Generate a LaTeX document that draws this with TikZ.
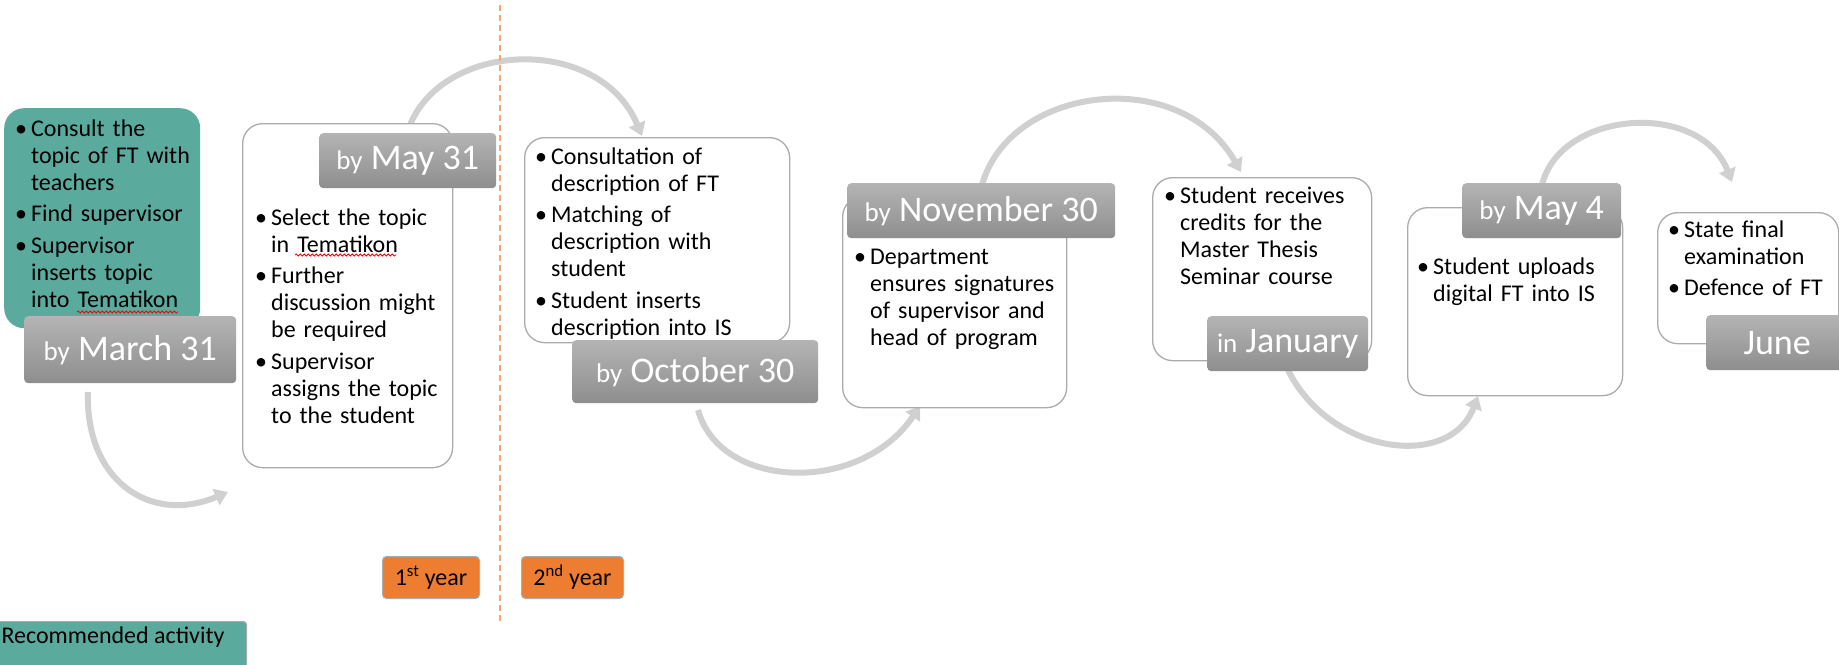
\documentclass[tikz,border=0pt]{standalone}
\usepackage{fontspec}
\setmainfont{Carlito}
\usetikzlibrary{arrows.meta,decorations.pathmorphing}
\definecolor{tealbox}{HTML}{5BAA9E}
\definecolor{labtop}{HTML}{B4B4B4}
\definecolor{labbot}{HTML}{8E8E8E}
\definecolor{boxline}{HTML}{ABABAB}
\definecolor{arrowgray}{HTML}{D0D0D0}
\definecolor{yearor}{HTML}{ED7D31}
\definecolor{dashor}{HTML}{F4A66E}
\newcommand\itm{\par\noindent\hangindent=16pt\hangafter=1\makebox[16pt][l]{\rule{0pt}{17pt}\textbullet}}
\newcommand\gap{\par\vspace{4.5pt}}
\newcommand\nl{\newline\rule{0pt}{17pt}}
\newcommand\lby{{\fontsize{27}{30}\selectfont by}}
\begin{document}
\begin{tikzpicture}[x=1pt,y=-1pt,
  garrow/.style={draw=arrowgray, line width=6pt, -{Triangle[width=17pt,length=13pt]}},
  wbox/.style={draw=boxline, line width=1.3pt, fill=white, rounded corners=20pt, inner sep=0pt, anchor=north west},
  gbox/.style={fill=tealbox, rounded corners=20pt, inner sep=0pt, anchor=north west},
  lab/.style={top color=labtop, bottom color=labbot, rounded corners=4pt, inner sep=0pt, anchor=north west, text=white, font=\fontsize{36}{40}\selectfont},
  ybox/.style={fill=yearor, draw=boxline, line width=1pt, rounded corners=4pt, inner sep=0pt, anchor=north west, font=\fontsize{24}{27}\selectfont},
  txt/.style={anchor=north west, inner sep=0pt, text width=250pt, font=\fontsize{24}{27}\selectfont},
  squig/.style={draw=red, line width=0.8pt, decorate, decoration={snake, segment length=4pt, amplitude=1pt}},
  dashline/.style={draw=dashor, line width=1.5pt, dash pattern=on 6pt off 4pt}]
\useasboundingbox (0,0) rectangle (1839,664);

% arrows (behind boxes)
\coordinate (a1s) at (88,392);   \coordinate (a1e) at (228,492);
\coordinate (a2s) at (410,125);  \coordinate (a2e) at (642,136);
\coordinate (a3s) at (698,410);  \coordinate (a3e) at (920,406);
\coordinate (a4s) at (982,185);  \coordinate (a4e) at (1241,172);
\coordinate (a5s) at (1288,370); \coordinate (a5e) at (1478,396);
\coordinate (a6s) at (1542,185); \coordinate (a6e) at (1732,182);
\draw[garrow] (a1s) .. controls (85,480) and (150,525) .. (a1e);
\draw[garrow] (a2s) .. controls (445,40) and (600,35) .. (a2e);
\draw[garrow] (a3s) .. controls (720,490) and (860,495) .. (a3e);
\draw[garrow] (a4s) .. controls (1010,85) and (1180,65) .. (a4e);
\draw[garrow] (a5s) .. controls (1330,455) and (1450,470) .. (a5e);
\draw[garrow] (a6s) .. controls (1560,110) and (1700,100) .. (a6e);

% year divider
\coordinate (dtop) at (500,5); \coordinate (dbot) at (500,622);
\draw[dashline] (dtop) -- (dbot);

% boxes
\node[gbox, minimum width=196pt, minimum height=220pt] (g1) at (4,108) {};
\node[wbox, minimum width=210pt, minimum height=344pt] (b2) at (242,123) {};
\node[wbox, minimum width=265pt, minimum height=205pt] (b3) at (524,137) {};
\node[wbox, minimum width=224pt, minimum height=211pt] (b4) at (842,196) {};
\node[wbox, minimum width=219pt, minimum height=183pt] (b5) at (1152,177) {};
\node[wbox, minimum width=215pt, minimum height=188pt] (b6) at (1407,207) {};
\node[wbox, minimum width=181pt, minimum height=131pt] (b7) at (1657,212) {};

% labels
\node[lab, minimum width=212pt, minimum height=67pt] (l1) at (24,316) {\lby\ March 31};
\node[lab, minimum width=177pt, minimum height=55pt] (l2) at (319,133) {\lby\ May 31};
\node[lab, minimum width=246pt, minimum height=63pt] (l3) at (572,340) {\lby\ October 30};
\node[lab, minimum width=268pt, minimum height=55pt] (l4) at (847,183) {\lby\ November 30};
\node[lab, minimum width=161pt, minimum height=55pt] (l5) at (1207,316) {{\fontsize{27}{30}\selectfont in}\ January};
\node[lab, minimum width=159pt, minimum height=55pt] (l6) at (1462,183) {\lby\ May 4};
\node[lab, minimum width=142pt, minimum height=55pt] (l7) at (1706,315) {June};

% texts
\node[txt] (t1) at (15,109) {\itm Consult the\nl topic of FT with\nl teachers\gap\itm Find supervisor\gap\itm Supervisor\nl inserts topic\nl into Tematikon\par};
\node[txt] (t2) at (255,198) {\itm Select the topic\nl in Tematikon\gap\itm Further\nl discussion might\nl be required\gap\itm Supervisor\nl assigns the topic\nl to the student\par};
\node[txt] (t3) at (535,137) {\itm Consultation of\nl description of FT\gap\itm Matching of\nl description with\nl student\gap\itm Student inserts\nl description into IS\par};
\node[txt] (t4) at (854,237) {\itm Department\nl ensures signatures\nl of supervisor and\nl head of program\par};
\node[txt] (t5) at (1164,176) {\itm Student receives\nl credits for the\nl Master Thesis\nl Seminar course\par};
\node[txt] (t6) at (1417,247) {\itm Student uploads\nl digital FT into IS\par};
\node[txt] (t7) at (1668,210) {\itm State final\nl examination\gap\itm Defence of FT\par};

% spell-check underlines
\coordinate (s1a) at (77,312); \coordinate (s1b) at (178,312);
\coordinate (s2a) at (295,255); \coordinate (s2b) at (396,255);
\draw[squig] (s1a) -- (s1b);
\draw[squig] (s2a) -- (s2b);

% year tags
\node[ybox, minimum width=97pt, minimum height=42pt] (y1) at (382,556) {1\textsuperscript{st} year};
\node[ybox, minimum width=102pt, minimum height=42pt] (y2) at (521,556) {2\textsuperscript{nd} year};

% legend
\node[gbox, rounded corners=3pt, draw=boxline, line width=1pt, minimum width=266pt, minimum height=60pt] (rec) at (-20,621) {};
\node[font=\fontsize{24}{27}\selectfont, inner sep=0pt] (rect) at (113,637) {Recommended activity};
\end{tikzpicture}
\end{document}
